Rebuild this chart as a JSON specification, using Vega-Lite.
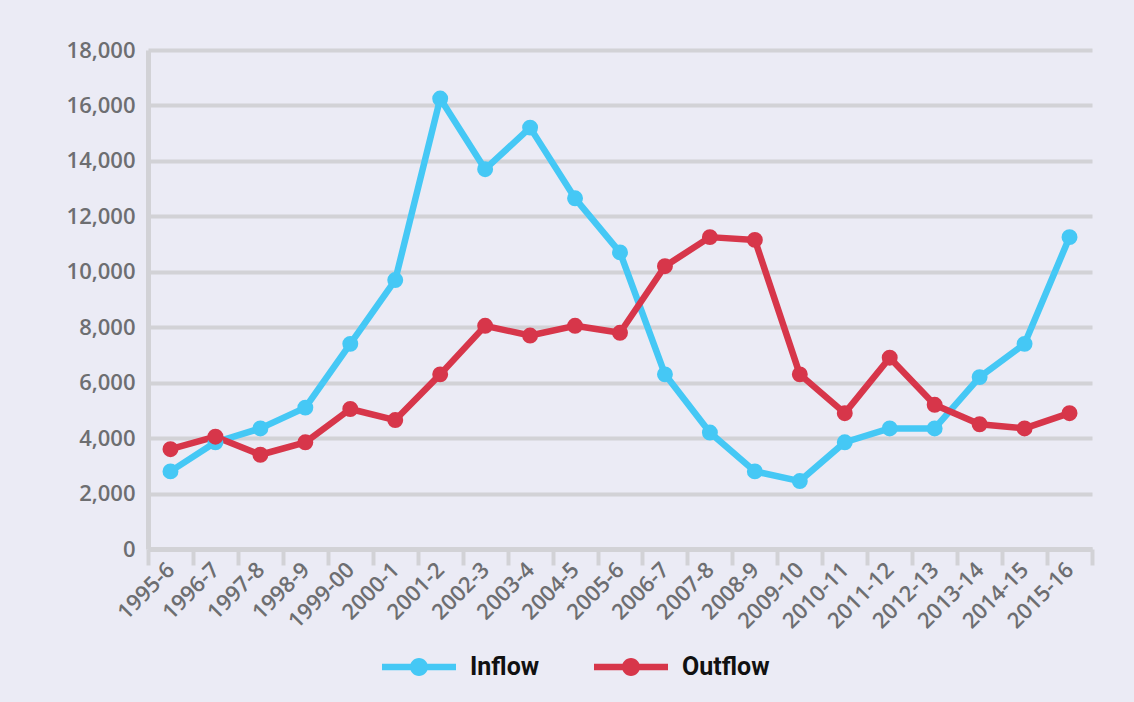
{
  "$schema": "https://vega.github.io/schema/vega-lite/v6.json",
  "width": 944,
  "height": 499,
  "autosize": {"type": "none"},
  "padding": {"left": 148, "top": 50, "right": 42, "bottom": 153},
  "background": "#ebebf5",
  "config": {"view": {"stroke": null}},
  "data": {
    "values": [
      {"year": "1995-6", "series": "Inflow", "value": 2800},
      {"year": "1996-7", "series": "Inflow", "value": 3850},
      {"year": "1997-8", "series": "Inflow", "value": 4350},
      {"year": "1998-9", "series": "Inflow", "value": 5100},
      {"year": "1999-00", "series": "Inflow", "value": 7400},
      {"year": "2000-1", "series": "Inflow", "value": 9700},
      {"year": "2001-2", "series": "Inflow", "value": 16250},
      {"year": "2002-3", "series": "Inflow", "value": 13700},
      {"year": "2003-4", "series": "Inflow", "value": 15200},
      {"year": "2004-5", "series": "Inflow", "value": 12650},
      {"year": "2005-6", "series": "Inflow", "value": 10700},
      {"year": "2006-7", "series": "Inflow", "value": 6300},
      {"year": "2007-8", "series": "Inflow", "value": 4200},
      {"year": "2008-9", "series": "Inflow", "value": 2800},
      {"year": "2009-10", "series": "Inflow", "value": 2450},
      {"year": "2010-11", "series": "Inflow", "value": 3850},
      {"year": "2011-12", "series": "Inflow", "value": 4350},
      {"year": "2012-13", "series": "Inflow", "value": 4350},
      {"year": "2013-14", "series": "Inflow", "value": 6200},
      {"year": "2014-15", "series": "Inflow", "value": 7400},
      {"year": "2015-16", "series": "Inflow", "value": 11250},
      {"year": "1995-6", "series": "Outflow", "value": 3600},
      {"year": "1996-7", "series": "Outflow", "value": 4050},
      {"year": "1997-8", "series": "Outflow", "value": 3400},
      {"year": "1998-9", "series": "Outflow", "value": 3850},
      {"year": "1999-00", "series": "Outflow", "value": 5050},
      {"year": "2000-1", "series": "Outflow", "value": 4650},
      {"year": "2001-2", "series": "Outflow", "value": 6300},
      {"year": "2002-3", "series": "Outflow", "value": 8050},
      {"year": "2003-4", "series": "Outflow", "value": 7700},
      {"year": "2004-5", "series": "Outflow", "value": 8050},
      {"year": "2005-6", "series": "Outflow", "value": 7800},
      {"year": "2006-7", "series": "Outflow", "value": 10200},
      {"year": "2007-8", "series": "Outflow", "value": 11250},
      {"year": "2008-9", "series": "Outflow", "value": 11150},
      {"year": "2009-10", "series": "Outflow", "value": 6300},
      {"year": "2010-11", "series": "Outflow", "value": 4900},
      {"year": "2011-12", "series": "Outflow", "value": 6900},
      {"year": "2012-13", "series": "Outflow", "value": 5200},
      {"year": "2013-14", "series": "Outflow", "value": 4500},
      {"year": "2014-15", "series": "Outflow", "value": 4350},
      {"year": "2015-16", "series": "Outflow", "value": 4900}
    ]
  },
  "encoding": {
    "x": {
      "field": "year",
      "type": "ordinal",
      "sort": null,
      "scale": {"type": "band", "paddingInner": 0, "paddingOuter": 0},
      "axis": {
        "title": null,
        "tickBand": "extent",
        "domainColor": "#d2d2d6",
        "domainWidth": 5,
        "tickColor": "#d2d2d6",
        "tickWidth": 4,
        "tickSize": 16,
        "labelAngle": -45,
        "labelAlign": "right",
        "labelBaseline": "middle",
        "labelPadding": 1,
        "labelFont": "Open Sans",
        "labelFontWeight": 600,
        "labelFontSize": 22,
        "labelColor": "#6d6e71",
        "grid": false
      }
    },
    "y": {
      "field": "value",
      "type": "quantitative",
      "scale": {"domain": [0, 18000], "nice": false},
      "axis": {
        "title": null,
        "values": [0, 2000, 4000, 6000, 8000, 10000, 12000, 14000, 16000, 18000],
        "format": ",d",
        "ticks": false,
        "labelPadding": 13,
        "domainColor": "#d2d2d6",
        "domainWidth": 5,
        "grid": true,
        "gridColor": "#d2d2d6",
        "gridWidth": 4,
        "labelFont": "Open Sans",
        "labelFontWeight": 600,
        "labelFontSize": 22,
        "labelColor": "#6d6e71"
      }
    },
    "color": {
      "field": "series",
      "type": "nominal",
      "scale": {"domain": ["Inflow", "Outflow"], "range": ["#45c8f5", "#d7364a"]},
      "legend": {
        "title": null,
        "orient": "none",
        "direction": "horizontal",
        "legendX": 234,
        "legendY": 580,
        "symbolType": "M-1,-0.085H1V0.085H-1Z M0.243,0A0.243,0.243,0,1,1,-0.243,0A0.243,0.243,0,1,1,0.243,0Z",
        "symbolSize": 5476,
        "symbolStrokeWidth": 0,
        "symbolOpacity": 1,
        "labelFont": "Roboto",
        "labelFontWeight": "bold",
        "labelFontSize": 25,
        "labelColor": "#111111",
        "labelOffset": 14,
        "columnPadding": 54,
        "encode": {
          "symbols": {
            "update": {
              "fill": {"scale": "color", "field": "value"},
              "strokeWidth": {"value": 0}
            }
          }
        }
      }
    }
  },
  "layer": [
    {"mark": {"type": "line", "strokeWidth": 6.5, "strokeJoin": "round"}},
    {"mark": {"type": "point", "filled": true, "size": 254, "opacity": 1}}
  ]
}
